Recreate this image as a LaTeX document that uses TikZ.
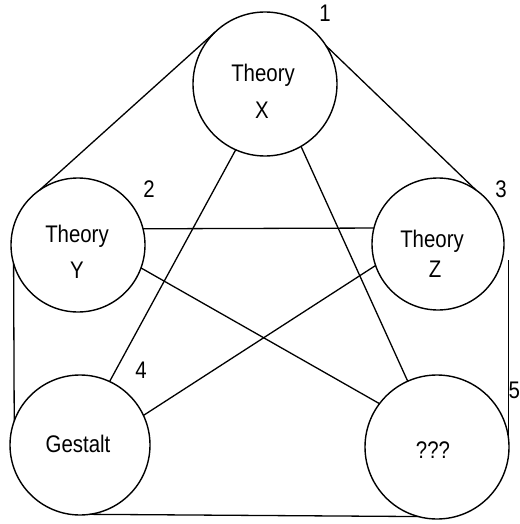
\documentclass[tikz,border=0pt]{standalone}
\usepackage{fontspec}
\setmainfont{Liberation Sans}[FakeStretch=0.85]
\begin{document}
\begin{tikzpicture}[x=1pt,y=-1pt,
  circ/.style={circle,draw,line width=1.4pt,inner sep=0pt,outer sep=0pt},
  lbl/.style={font=\fontsize{24}{28}\selectfont,inner sep=0pt,anchor=base},
  link/.style={line width=1.3pt}]
\useasboundingbox (0,0) rectangle (519,524);
% circles
\node[circ,minimum size=144pt] (X) at (265,84) {};
\node[circ,minimum size=134pt] (Y) at (78,245) {};
\node[circ,minimum size=132pt] (Z) at (438,244) {};
\node[circ,minimum size=140pt] (G) at (80,445) {};
\node[circ,minimum size=144pt] (Q) at (437,447) {};
% texts
\node[lbl] (tx1) at (263,82) {Theory};
\node[lbl] (tx2) at (262,118) {X};
\node[lbl] (ty1) at (77,242) {Theory};
\node[lbl] (ty2) at (77,278) {Y};
\node[lbl] (tz1) at (432,247) {Theory};
\node[lbl] (tz2) at (435,277) {Z};
\node[lbl] (tg) at (78,452) {Gestalt};
\node[lbl] (tq) at (433,458) {???};
% numbers
\node[lbl] (n1) at (325,22) {1};
\node[lbl] (n2) at (149,197) {2};
\node[lbl] (n3) at (501,197) {3};
\node[lbl] (n4) at (141,378) {4};
\node[lbl,anchor=base west] (n5) at (508.5,398) {5};
% connectors
\coordinate (r5) at (508,260);
\draw[link] (Y.125) -- (X.134);
\draw[link] (X.32) -- (Z.55);
\draw[link] (Y.14) -- (Z.166);
\draw[link] (Y.196) -- (G.160);
\draw[link] (Q.7) -- (Q.7 |- r5);
\draw[link] (G.278) -- (Q.255);
\draw[link] (X.246) -- (G.65);
\draw[link] (X.300) -- (Q.114);
\draw[link] (Y.340) -- (Q.143);
\draw[link] (Z.199) -- (G.25);
\end{tikzpicture}
\end{document}
